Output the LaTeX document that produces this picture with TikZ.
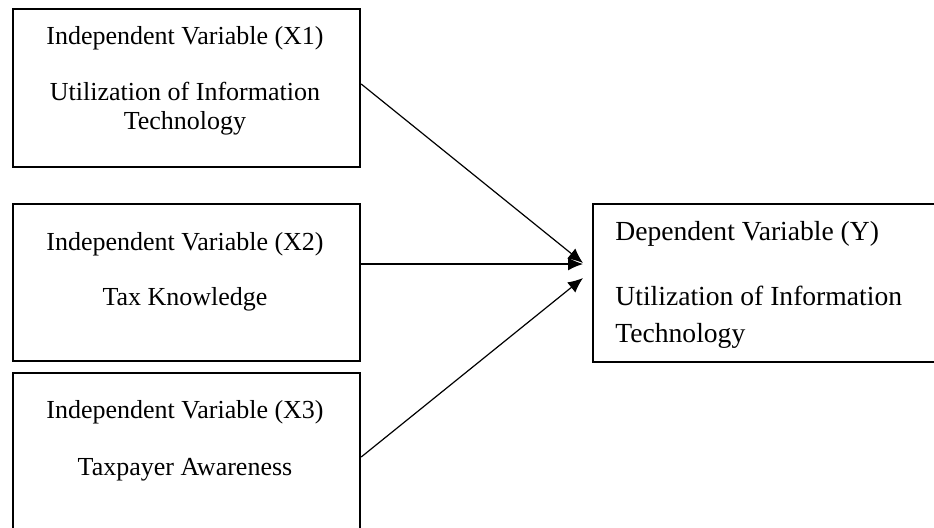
\documentclass[tikz,border=0pt]{standalone}
\usepackage{fontspec}
\setmainfont{Liberation Serif}
\usetikzlibrary{arrows.meta}
\begin{document}
\begin{tikzpicture}[x=0.5pt,y=-0.5pt,
  box/.style={draw,line width=1.1pt,rectangle,inner sep=0pt,anchor=north west},
  ltxt/.style={font=\fontsize{13}{15}\selectfont,anchor=base,inner sep=0pt},
  rtxt/.style={font=\fontsize{13.8}{16}\selectfont,anchor=base west,inner sep=0pt},
  arr/.style={line width=0.6pt,-{Latex[length=7.5pt,width=6.5pt]}}]
\useasboundingbox (0,0) rectangle (934,527);
% left boxes
\node[box,minimum width=347*0.5pt,minimum height=158*0.5pt] (b1) at (12,8) {};
\node[box,minimum width=347*0.5pt,minimum height=157*0.5pt] (b2) at (12,203) {};
\node[box,minimum width=347*0.5pt,minimum height=170*0.5pt] (b3) at (12,372) {};
% right box
\node[box,minimum width=360*0.5pt,minimum height=158*0.5pt] (y) at (592,203) {};
% left texts
\node[ltxt] (t1a) at (185,44) {Independent Variable (X1)};
\node[ltxt] (t1b) at (185,100) {Utilization of Information};
\node[ltxt] (t1c) at (185,129) {Technology};
\node[ltxt] (t2a) at (185,250) {Independent Variable (X2)};
\node[ltxt] (t2b) at (185,305) {Tax Knowledge};
\node[ltxt] (t3a) at (185,418) {Independent Variable (X3)};
\node[ltxt] (t3b) at (185,475) {Taxpayer Awareness};
% right texts
\node[rtxt] (ya) at (615,240) {Dependent Variable (Y)};
\node[rtxt] (yb) at (615,305) {Utilization of Information};
\begin{scope}
\clip (600,300) rectangle (930,348);
\node[rtxt] (yc) at (615,342) {Technology};
\end{scope}
% arrows
\coordinate (p1) at (583,263);
\coordinate (p2) at (583,264);
\coordinate (p3) at (583,278);
\coordinate (s1) at (359,84);
\coordinate (s3) at (359,457);
\draw[arr] (b1.east |- s1) -- (p1);
\draw[arr] (b2.east |- p2) -- (p2);
\draw[arr] (b3.east |- s3) -- (p3);
\end{tikzpicture}
\end{document}
